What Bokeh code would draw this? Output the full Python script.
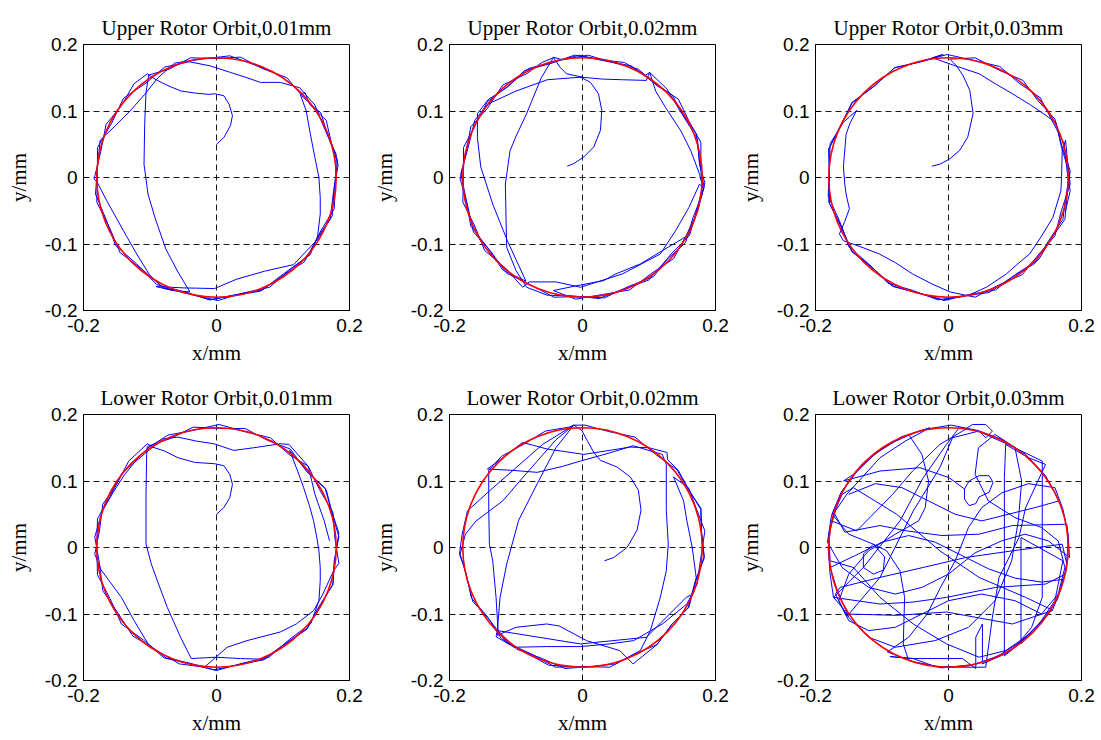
from bokeh.plotting import figure
from bokeh.layouts import gridplot
from bokeh.models import Range1d, FixedTicker
from bokeh.embed import file_html
from bokeh.resources import INLINE

# ---------------- data ----------------
AXIS_RANGE = (-0.2, 0.2)
X_TICKS = [-0.2, 0.0, 0.2]
Y_TICKS = [-0.2, -0.1, 0.0, 0.1, 0.2]
TICK_LABELS = {-0.2: "-0.2", -0.1: "-0.1", 0.0: "0", 0.1: "0.1", 0.2: "0.2"}
REF_CENTER_X = [0.0]
REF_CENTER_Y = [0.0]
REF_RADIUS_MM = 0.18

TITLES = [
    "Upper Rotor Orbit,0.01mm", "Upper Rotor Orbit,0.02mm", "Upper Rotor Orbit,0.03mm",
    "Lower Rotor Orbit,0.01mm", "Lower Rotor Orbit,0.02mm", "Lower Rotor Orbit,0.03mm",
]

# orbit points, in micrometres (x, y)
upper_001 = [
    (0, 50), (11, 60), (21, 78), (24, 93), (19, 110), (11, 123), (-3, 126), (-11, 125), (-33, 127),
    (-53, 130), (-68, 136), (-83, 143), (-96, 150), (-104, 156),
    (-124, 141), (-143, 108), (-166, 80), (-174, 39), (-184, -2), (-179, -8),
    (-165, -35), (-140, -80), (-120, -115), (-101, -146),
    (-80, -166), (-44, -173), (-10, -184), (28, -177), (66, -171), (99, -148), (132, -127), (152, -90),
    (174, -58), (177, -15), (182, 26), (168, 61), (157, 97), (130, 121), (106, 150), (69, 164), (36, 181),
    (0, 179), (-39, 180), (-71, 163), (-102, 154),
    (-106, 128), (-108, 80), (-109, 20), (-103, -25), (-92, -62), (-76, -108), (-58, -142), (-40, -172),
    (-66, -170), (-91, -164), (-50, -166), (-3, -167),
    (30, -153), (72, -141), (116, -131), (151, -94),
    (171, -63), (176, -21), (183, 19), (173, 51), (165, 86), (140, 110), (133, 128), (126, 125),
    (135, 100), (141, 66), (148, 30), (154, 0), (156, -30), (156, -55), (152, -89),
    (141, -116), (110, -139), (80, -165), (39, -174), (2, -185), (-37, -176), (-80, -166), (-112, -138),
    (-145, -113), (-161, -75), (-180, -37), (-179, 6), (-179, 45), (-158, 81), (-140, 119), (-106, 142),
    (-78, 166), (-41, 174),
    (-10, 168), (21, 158), (46, 150), (66, 143), (96, 143), (125, 135),
    (148, 109), (163, 72), (180, 35), (179, -6), (177, -47), (157, -80), (138, -118), (102, -144),
    (69, -169), (30, -176), (-10, -184), (-49, -172), (-90, -161), (-120, -130), (-152, -102),
    (-166, -63), (-182, -25), (-179, 16), (-175, 56),
    (-152, 78), (-130, 100), (-108, 125), (-88, 150),
    (-63, 172), (-22, 178), (20, 183), (58, 169), (95, 154),
]

upper_002 = [
    (-23, 17), (-13, 21), (2, 31), (17, 46), (27, 71), (29, 101), (24, 126), (12, 143), (-3, 151),
    (30, 148), (60, 147), (96, 146), (101, 158),
    (127, 133), (148, 98), (171, 66), (176, 24), (183, -15), (172, -49), (161, -87), (133, -115),
    (107, -149), (69, -164), (33, -181), (-5, -179), (-43, -180), (-79, -161), (-114, -144), (-138, -111),
    (-164, -82), (-173, -41), (-184, -2), (-175, 37), (-168, 76), (-143, 104), (-120, 139), (-84, 156),
    (-61, 173), (-44, 180),
    (-62, 150), (-84, 96), (-100, 62), (-109, 40), (-116, -10), (-115, -60), (-114, -105), (-100, -140),
    (-84, -165),
    (-53, -177), (-15, -178), (25, -182), (61, -168), (100, -154), (126, -124), (155, -98), (166, -61),
    (180, -25), (178, 15), (178, 53), (160, 85), (144, 118), (112, 138), (84, 163), (45, 173), (8, 184),
    (-30, 177), (-44, 181),
    (-34, 166), (-24, 156), (-1, 151), (-53, 147), (-100, 130), (-143, 110),
    (-162, 86), (-172, 45), (-183, 6), (-175, -33), (-168, -73), (-143, -105), (-120, -139), (-85, -156),
    (-113, -95), (-135, -40), (-153, 16), (-158, 60), (-158, 96),
    (-142, 117), (-113, 136), (-87, 161), (-49, 171), (-12, 184), (26, 177), (63, 173), (95, 154), (101, 158),
    (110, 130), (125, 105), (148, 70), (163, 40), (176, 5), (181, -15),
    (176, -10), (160, -45), (140, -80), (117, -115), (60, -145), (-3, -165),
    (-40, -157), (-80, -157), (-90, -165),
    (-116, -136), (-147, -110), (-162, -73), (-180, -37), (-179, 4), (-179, 45), (-161, 79), (-143, 114),
    (-111, 138), (-81, 164), (-43, 174), (-5, 184), (35, 175), (73, 168), (104, 145), (135, 124),
    (153, 90), (173, 58), (176, 19), (184, -8), (174, -48), (159, -87),
    (120, -110), (87, -130), (50, -145), (32, -155), (-10, -163), (-44, -170),
    (-10, -183), (30, -176), (71, -169), (104, -144), (137, -122), (156, -87), (170, -58), (179, -20),
]

upper_003 = [
    (-25, 17), (-13, 20), (2, 28), (17, 41), (29, 61), (37, 96), (32, 131), (22, 153), (12, 168), (2, 178),
    (40, 180), (77, 161), (112, 146), (134, 116), (160, 88), (170, 49), (183, 10), (178, -30), (175, -63),
    (155, -91), (136, -123), (102, -145), (71, -169), (31, -176), (-6, -185), (-44, -174), (-83, -164),
    (-113, -137), (-145, -112), (-160, -76), (-179, -39), (-179, 2), (-180, 43), (-162, 79), (-145, 113),
    (-110, 139), (-81, 165), (-43, 174), (-8, 185), (-24, 180),
    (10, 168), (46, 156), (72, 140), (96, 126), (122, 110), (147, 93),
    (162, 82), (170, 45), (182, 6), (176, -33), (172, -63), (150, -96), (130, -129), (95, -150),
    (61, -173), (22, -178), (-16, -184), (-53, -170), (-91, -159), (-120, -130), (-150, -104),
    (-164, -65), (-181, -28), (-179, 12), (-178, 51), (-158, 83), (-138, 101),
    (-148, 82), (-154, 65), (-158, 16), (-156, -10), (-154, -25), (-149, -47), (-156, -66), (-164, -85),
    (-158, -95), (-130, -105), (-104, -115), (-80, -128), (-54, -145), (-25, -160), (2, -172),
    (40, -180), (77, -161), (111, -146), (136, -115), (160, -88), (170, -49), (183, -10), (179, 25), (176, 56),
    (171, 40), (170, 0), (169, -20), (157, -60), (140, -88), (122, -115), (104, -130), (87, -145),
    (57, -165), (30, -177),
    (-8, -184), (-45, -174), (-85, -163), (-115, -135), (-146, -110), (-162, -73), (-180, -37),
    (-179, 4), (-180, 43), (-162, 77), (-145, 112), (-112, 137), (-81, 165), (-41, 174), (-2, 185),
    (38, 176), (77, 167), (106, 142), (138, 120), (156, 85), (174, 51), (178, 12), (183, -20), (176, -50),
]

lower_001 = [
    (0, 50), (11, 60), (20, 75), (24, 95), (20, 110), (11, 123), (-3, 126), (-33, 128), (-58, 135),
    (-78, 145), (-96, 151), (-104, 156),
    (-132, 130), (-150, 95), (-171, 65), (-176, 25), (-183, -10), (-174, -33),
    (-160, -52), (-143, -75), (-125, -108), (-103, -145),
    (-76, -166), (-40, -174), (-4, -184), (34, -176), (71, -169), (103, -145), (136, -122), (154, -89),
    (175, -56), (178, -18), (184, 22), (173, 55), (163, 90), (136, 114), (111, 148), (77, 161), (43, 179),
    (4, 179), (-35, 181), (-69, 164), (-104, 152),
    (-105, 140), (-106, 80), (-106, 5), (-98, -25), (-86, -58), (-74, -90), (-54, -135), (-38, -167),
    (-1, -165), (36, -167),
    (70, -168), (103, -145), (136, -123), (155, -89), (175, -55), (177, -20), (184, 16), (174, 51),
    (165, 87), (138, 112), (110, 146),
    (122, 115), (131, 90), (140, 62), (146, 40), (151, 14), (154, -5), (156, -30), (156, -50), (154, -80),
    (142, -114), (110, -138), (79, -165), (39, -174), (0, -185), (-39, -175), (-79, -166), (-110, -139),
    (-143, -115), (-160, -77), (-179, -41), (-180, 0), (-179, 43), (-160, 77), (-142, 112), (-108, 141),
    (-81, 163), (-58, 166),
    (-30, 160), (-4, 156), (26, 146), (56, 150), (96, 156), (109, 155),
    (138, 122), (155, 87), (175, 53), (178, 14), (184, -24), (176, -35),
    (160, -70), (146, -95), (120, -115), (96, -127), (46, -140), (16, -150), (-18, -180),
    (-56, -175), (-91, -154), (-126, -133), (-148, -99), (-171, -65), (-176, -24), (-183, 16), (-172, 54),
    (-156, 82), (-138, 110), (-120, 132), (-103, 150),
    (-73, 169), (-36, 176), (4, 185), (43, 174), (81, 165), (109, 140), (138, 122),
    (148, 80), (162, 40), (170, 10),
]

lower_002 = [
    (33, -20), (47, -15), (67, 0), (82, 26), (88, 56), (84, 86), (72, 106), (52, 121), (27, 131), (17, 143),
    (7, 161), (-1, 176), (-13, 184),
    (-40, 162), (-68, 130), (-90, 105), (-120, 70), (-160, 40),
    (-176, 20), (-184, -10), (-174, -44), (-165, -81), (-138, -111), (-114, -143), (-77, -160), (-41, -180),
    (0, -179), (41, -180), (77, -161), (112, -146), (134, -116), (159, -90), (169, -53), (183, -16),
    (179, 22), (178, 57), (160, 87), (144, 116), (128, 132),
    (127, 143), (100, 150), (72, 151), (40, 146), (2, 140), (-25, 144), (-53, 148), (-90, 158),
    (-120, 135), (-143, 118),
    (-105, 116), (-68, 113), (-30, 122), (-3, 130), (40, 142), (76, 153), (120, 140),
    (126, 125), (126, 56), (129, 5), (126, -35), (117, -75), (102, -125), (87, -155),
    (50, -175), (12, -179), (-26, -182), (-63, -166), (-99, -153), (-127, -125),
    (-130, -75), (-135, -20), (-140, 5), (-141, 60), (-141, 116),
    (-122, 137), (-89, 155), (-56, 175), (-20, 181), (-13, 184),
    (-40, 150), (-68, 96), (-96, 41), (-114, -25), (-124, -75), (-128, -125), (-130, -134),
    (-103, -150), (-54, -149), (-3, -149), (40, -145), (77, -140), (120, -115), (157, -85),
    (172, -56), (178, -15), (184, 25), (171, 59), (160, 89), (137, 106),
    (152, 70), (157, 40), (165, 0), (171, -45), (166, -70),
    (156, -75), (96, -135), (-3, -145), (-128, -125),
    (-128, -132), (-100, -120), (-54, -115), (-35, -118), (6, -140), (56, -155), (76, -175),
    (112, -146), (134, -116), (160, -90), (170, -51), (183, -14), (179, 24), (178, 59), (158, 89),
    (142, 117), (110, 140), (79, 166), (41, 174), (4, 184), (-13, 184),
    (-60, 155), (-100, 120), (-140, 85), (-173, 55),
    (-181, 20), (-185, -10), (-176, -35), (-167, -76), (-143, -104), (-122, -137),
    (-89, -156), (-51, -177), (-10, -179),
]

lower_003 = [
    (24, 88), (31, 100), (46, 108), (61, 108), (67, 98), (61, 83), (46, 76), (41, 66), (31, 63), (24, 73),
    (24, 88),
    (1, 105), (-43, 120), (-103, 115), (-158, 100),
    (-140, 112), (-115, 138), (-80, 160), (-45, 175), (-28, 180),
    (-65, 160), (-103, 135), (-153, 80),
    (-170, 55), (-180, 20), (-178, -20),
    (-143, -30), (-103, -75), (-53, -115), (-3, -145), (46, -165), (86, -155),
    (118, -133), (145, -105), (156, -94),
    (116, -75), (46, -45), (-13, -5), (-78, 50), (-143, 90),
    (-160, 80), (-172, 52),
    (-156, 23), (-103, 33), (-63, 25), (-10, 18), (46, 20), (96, 33), (178, 35),
    (180, 5), (176, -40),
    (146, -55), (71, -60), (-3, -75), (-53, -82), (-103, -85), (-173, -75),
    (-178, -40), (-181, 0), (-176, 40),
    (-138, 25), (-84, 80), (-54, 115), (-13, 155), (21, 175),
    (36, 185), (56, 185), (66, 175), (56, 165), (46, 175), (16, 180),
    (-3, 155), (-38, 105), (-73, 40), (-128, -30), (-173, -75),
    (-160, -90), (-153, -100),
    (-78, -102), (-3, -97), (96, -115), (156, -95),
    (170, -60), (178, -25), (171, 5),
    (96, -5), (26, -15), (-38, -30), (-103, -45), (-163, -60),
    (-170, -70), (-153, -104),
    (-103, -45), (-53, 55), (-13, 120), (6, 165),
    (45, 175), (87, 156),
    (141, 130), (141, 65), (141, -75),
    (125, -120), (100, -150), (84, -163), (84, -40), (84, 105), (86, 155),
    (120, 135), (146, 125),
    (116, 60), (106, 15), (76, -45), (66, -105), (56, -180),
    (20, -180), (-20, -179), (-53, -167), (-88, -164),
    (-53, -167), (21, -167), (41, -182), (41, -135), (51, -115), (51, -175),
    (90, -158), (120, -132),
    (109, -145), (109, 15), (172, -20),
    (160, -80), (130, -124), (90, -157), (40, -176), (-10, -181), (-60, -170),
    (-68, -145), (-66, -75), (-73, -35), (-93, -5), (-113, 5),
    (-96, -14), (-98, -34), (-113, -40), (-128, -30), (-128, -10), (-113, 5),
    (-150, 20), (-175, 50), (-160, 85), (-130, 125), (-95, 152), (-60, 170),
    (-40, 140), (-30, 100), (-35, 60), (-45, 40), (-80, 20), (-120, -5), (-150, -40), (-165, -80),
    (-150, -110), (-120, -125), (-80, -120), (-40, -100), (0, -80), (50, -70), (100, -80), (140, -100),
    (165, -70), (175, -30), (165, 10), (140, 30), (100, 45), (60, 70), (40, 110), (45, 150), (70, 170),
    (100, 150), (110, 100), (105, 40), (95, -20), (70, -80), (30, -120), (-20, -140), (-80, -150),
    (-120, -135), (-150, -105),
    (-168, -62), (-178, -30), (-140, -12), (-100, 8), (-60, 18), (-20, 8), (20, -12), (60, -32),
    (100, -46), (140, -52), (172, -48),
    (164, -78), (140, -112), (108, -142), (70, -166), (30, -178), (-10, -180), (-50, -173), (-92, -157),
    (-60, -135), (-32, -100), (-12, -60), (10, -20), (30, 30), (50, 60), (80, 82), (120, 96), (160, 90),
    (172, 58), (180, 20), (182, -15),
    (150, 10), (115, 20), (80, 10), (40, -8), (0, -40), (-40, -60), (-80, -70), (-120, -60), (-160, -30),
    (-182, 8), (-176, 48), (-162, 82), (-138, 114), (-108, 143), (-72, 166), (-34, 178), (4, 184),
    (44, 176), (82, 162), (116, 140), (146, 108), (166, 70),
    (130, 60), (90, 50), (50, 40), (10, 50), (-30, 70), (-70, 90), (-110, 96), (-150, 80),
]

ORBITS = [upper_001, upper_002, upper_003, lower_001, lower_002, lower_003]


def make_panel(title, pts):
    p = figure(
        frame_width=266, frame_height=266,
        x_range=Range1d(*AXIS_RANGE), y_range=Range1d(*AXIS_RANGE),
        output_backend="svg", toolbar_location=None, title=title,
        x_axis_label="x/mm", y_axis_label="y/mm",
        min_border_left=83, min_border_right=17,
        min_border_top=44, min_border_bottom=60,
    )
    p.title.align = "center"
    p.title.text_font = "Liberation Serif"
    p.title.text_font_size = "21px"
    p.title.text_font_style = "normal"
    p.title.text_color = "black"
    p.title.standoff = 10

    for ax in (p.xaxis[0], p.yaxis[0]):
        ax.axis_label_text_font = "Liberation Serif"
        ax.axis_label_text_font_size = "21px"
        ax.axis_label_text_font_style = "normal"
        ax.axis_label_text_color = "black"
        ax.major_label_text_font = "Liberation Sans"
        ax.major_label_text_font_size = "19px"
        ax.major_label_text_color = "black"
        ax.major_tick_in = 5
        ax.major_tick_out = 0
        ax.minor_tick_in = 0
        ax.minor_tick_out = 0
        ax.axis_line_color = "black"
        ax.major_tick_line_color = "black"
        ax.major_label_overrides = TICK_LABELS
    p.xaxis.ticker = FixedTicker(ticks=X_TICKS)
    p.yaxis.ticker = FixedTicker(ticks=Y_TICKS)
    p.yaxis.major_label_standoff = 6
    p.yaxis.axis_label_standoff = 11
    p.xaxis.major_label_standoff = 8
    p.xaxis.axis_label_standoff = 6

    for g in (p.xgrid[0], p.ygrid[0]):
        g.grid_line_color = "black"
        g.grid_line_dash = "6 4"
        g.grid_line_width = 1
        g.grid_line_alpha = 0.9

    p.outline_line_color = "black"
    p.outline_line_width = 1
    p.outline_line_alpha = 1
    p.background_fill_color = "white"
    p.border_fill_color = "white"

    xs = [pt[0] / 1000.0 for pt in pts]
    ys = [pt[1] / 1000.0 for pt in pts]
    p.line(xs, ys, line_color="#0000ff", line_width=1)
    p.circle(x=REF_CENTER_X, y=REF_CENTER_Y, radius=REF_RADIUS_MM,
             fill_color=None, line_color="#ff0000", line_width=1.6)
    return p


panels = [make_panel(TITLES[i], ORBITS[i]) for i in range(6)]
grid = gridplot([panels[:3], panels[3:]], toolbar_location=None)

open("out.html", "w").write(file_html(grid, INLINE))
